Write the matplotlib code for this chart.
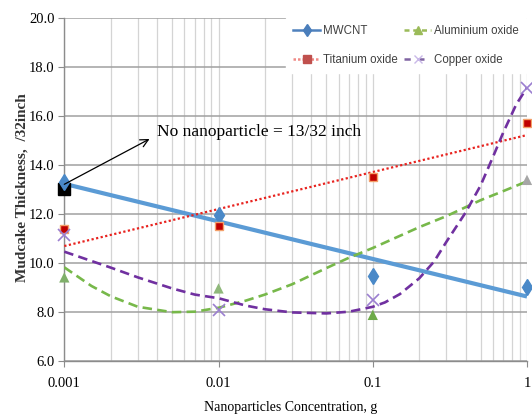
import matplotlib
matplotlib.use("Agg")
import matplotlib.pyplot as plt
from matplotlib.lines import Line2D
from matplotlib.ticker import FixedLocator, NullLocator, FixedFormatter

# ---- data ----
conc = [0.001, 0.01, 0.1, 1.0]
mwcnt = [13.3, 11.95, 9.47, 9.0]
titanium = [11.36, 11.5, 13.49, 15.69]
aluminium = [9.4, 8.95, 7.87, 13.38]
copper = [11.13, 8.07, 8.48, 17.12]
no_nano_x = [0.001]
no_nano_y = [13.0]

# trendlines
mwcnt_trend_x = [0.001, 1.0]
mwcnt_trend_y = [13.22, 8.62]
titanium_trend_x = [0.001, 1.0]
titanium_trend_y = [10.68, 15.21]
aluminium_trend_x = [0.001, 0.0015, 0.002, 0.003, 0.005, 0.007, 0.01, 0.015, 0.02,
                     0.03, 0.05, 0.07, 0.1, 0.2, 0.3, 0.5, 0.7, 1.0]
aluminium_trend_y = [9.81, 9.05, 8.63, 8.2, 7.98, 8.0, 8.16, 8.45, 8.7,
                     9.12, 9.78, 10.2, 10.6, 11.45, 11.9, 12.55, 12.92, 13.32]
copper_trend_x = [0.001, 0.002, 0.003, 0.005, 0.007, 0.01, 0.015, 0.02, 0.03, 0.05,
                  0.07, 0.1, 0.12, 0.15, 0.2, 0.25, 0.3, 0.4, 0.5, 0.6, 0.7, 0.85, 1.0]
copper_trend_y = [10.45, 9.8, 9.4, 8.95, 8.7, 8.55, 8.25, 8.1, 7.97, 7.93,
                  8.0, 8.2, 8.38, 8.72, 9.36, 10.05, 10.85, 12.05, 13.15, 14.3, 15.3, 16.45, 17.15]

xtick_vals = [0.001, 0.01, 0.1, 1]
xtick_labels = ["0.001", "0.01", "0.1", "1"]
ytick_vals = [6, 8, 10, 12, 14, 16, 18, 20]

series_names = ["MWCNT", "Titanium oxide", "Aluminium oxide", "Copper oxide"]

# ---- figure ----
W, H = 532, 420
fig = plt.figure(figsize=(W / 100, H / 100), dpi=100)
left, right, top, bottom = 64.3, 527.0, 17.7, 360.7
ax = fig.add_axes([left / W, 1 - bottom / H, (right - left) / W, (bottom - top) / H])
ax.set_xscale("log")
ax.set_xlim(0.001, 1)
ax.set_ylim(6, 20)

serif = ["Liberation Serif", "DejaVu Serif"]
sans = ["Liberation Sans", "DejaVu Sans"]

# grid
ax.xaxis.set_major_locator(FixedLocator(xtick_vals))
ax.xaxis.set_major_formatter(FixedFormatter(xtick_labels))
ax.xaxis.set_minor_locator(matplotlib.ticker.LogLocator(base=10, subs=range(2, 10)))
ax.xaxis.set_minor_formatter(matplotlib.ticker.NullFormatter())
ax.yaxis.set_major_locator(FixedLocator(ytick_vals))
ax.yaxis.set_minor_locator(NullLocator())
ax.grid(True, which="major", axis="y", color="#A0A0A0", lw=1.1)
ax.grid(True, which="both", axis="x", color="#D4D4D4", lw=0.9)
ax.set_axisbelow(True)
for s in ["top", "right"]:
    ax.spines[s].set_visible(False)
for s in ["left", "bottom"]:
    ax.spines[s].set_color("#8C8C8C")
    ax.spines[s].set_linewidth(1.0)
ax.tick_params(axis="both", which="major", direction="out", length=4, color="#8C8C8C",
               labelsize=10.5, pad=3)
ax.tick_params(axis="x", which="minor", length=0)
ax.set_yticklabels([f"{v:.1f}" for v in ytick_vals])
for lbl in ax.get_xticklabels() + ax.get_yticklabels():
    lbl.set_family(serif)
ax.tick_params(axis="x", pad=8)

# trendlines
ax.plot(mwcnt_trend_x, mwcnt_trend_y, color="#5B9BD5", lw=3.0, solid_capstyle="butt", zorder=3)
ax.plot(titanium_trend_x, titanium_trend_y, color="#E8231F", lw=1.6, dashes=(1, 1.1), zorder=3)
ax.plot(aluminium_trend_x, aluminium_trend_y, color="#77B84A", lw=1.9, dashes=(3.6, 2.0), zorder=3)
ax.plot(copper_trend_x, copper_trend_y, color="#7030A0", lw=1.9, dashes=(3.6, 2.0), zorder=3)

# data points
ax.plot(no_nano_x, no_nano_y, ls="none", marker="s", ms=8, color="black", zorder=4, clip_on=False)
ax.plot(conc, mwcnt, ls="none", marker="d", ms=8.5, color="#4A89C8", zorder=5, clip_on=False)
ax.plot(conc, titanium, ls="none", marker="s", ms=6, mfc="#C00000", mec="#F4A06A", mew=1.0,
        zorder=5, clip_on=False)
ax.scatter(conc, aluminium, marker="^", s=55, c=["#7FAF6A", "#8FB87A", "#6DAA48", "#A6A6A6"],
           zorder=5, clip_on=False, linewidths=0)
ax.plot(conc, copper, ls="none", marker="x", ms=9, mew=1.2, color="#9B7FD0", zorder=5, clip_on=False)

# annotation
ax.annotate("", xy=(0.00357, 15.05), xytext=(0.001, 13.2),
            arrowprops=dict(arrowstyle="->", color="black", lw=0.9, shrinkA=0, shrinkB=0,
                            mutation_scale=14), zorder=6)
ax.text(0.00402, 15.33, "No nanoparticle = 13/32 inch", ha="left", va="center",
        fontsize=12.5, family=serif, zorder=6)

# axis labels
fig.text(22 / W, 1 - 188 / H, "Mudcake Thickness,  /32inch", rotation=90, ha="center", va="center",
         fontsize=11, family=serif, fontweight="bold", color="#333333")
fig.text(291 / W, 1 - 408 / H, "Nanoparticles Concentration, g", ha="center", va="center",
         fontsize=10, family=serif)

# legend
handles = [
    Line2D([], [], color="#4F81BD", lw=1.8, marker="d", ms=6, mfc="#4A7EBB", mec="#4A7EBB"),
    Line2D([], [], color="#F08A86", lw=1.8, dashes=(1, 0.8), marker="s", ms=6, mfc="#C0504D", mec="#C0504D"),
    Line2D([], [], color="#9BBB59", lw=1.8, dashes=(2, 1.5), marker="^", ms=6, mfc="#9BBB59", mec="#9BBB59"),
    Line2D([], [], color="#8064A2", lw=1.8, dashes=(2.5, 3), marker="x", ms=6, mew=1.0, mec="#C9B8E8"),
]
leg = fig.legend(handles, series_names, ncol=2, loc="upper right",
                 bbox_to_anchor=(525.5 / W, 1 - 18.5 / H), bbox_transform=fig.transFigure,
                 frameon=True, facecolor="white", edgecolor="white", framealpha=1.0,
                 fancybox=False, borderaxespad=0, borderpad=0.6,
                 handlelength=2.3, handletextpad=0.25, columnspacing=0.6, labelspacing=1.45,
                 prop={"family": sans, "size": 8.3})
for t in leg.get_texts():
    t.set_color("#404040")

fig.savefig("out.png", dpi=100)
